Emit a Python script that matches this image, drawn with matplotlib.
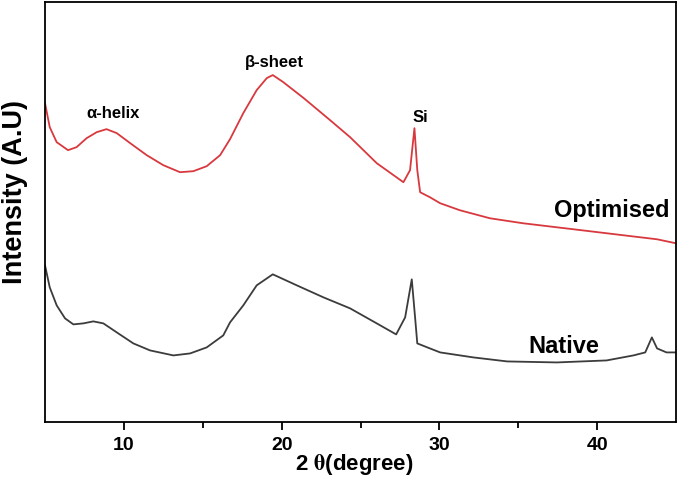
import numpy as np
import matplotlib.pyplot as plt

# plot setup
plt.rc('font', **{'family': 'sans-serif', 'sans-serif': ['Liberation Sans', 'DejaVu Sans'], 'weight': 'bold'})
plt.rc('mathtext', fontset='stix')
plt.rc('xtick', labelsize=14, direction='out')
plt.rcParams['axes.linewidth'] = 1.3
plt.rcParams['xtick.major.width'] = 1.3
plt.rcParams['xtick.major.size'] = 6
plt.rcParams['xtick.minor.width'] = 1.3
plt.rcParams['xtick.minor.size'] = 4

# data (2 theta in degree, intensity in arbitrary units)
two_theta_opt = [5.0, 5.3, 5.74, 6.46, 7.0, 7.64, 8.28, 8.9, 9.55, 10.4, 11.45, 12.5, 13.56,
                 14.4, 15.25, 16.1, 16.73, 17.57, 18.42, 19.06, 19.44, 20.1, 21.4, 23.07,
                 24.34, 26.03, 27.72, 28.14, 28.42, 28.6, 28.78, 29.4, 30.05, 31.3, 33.2,
                 35.3, 38.5, 41.67, 43.8, 45.0]
int_opt = [318, 294, 279, 271, 274, 283, 289, 292, 288, 278, 266, 256, 249,
           250, 255, 266, 282, 308, 331, 343, 346, 339, 323, 301,
           284, 258, 239, 251, 293, 251, 229, 224, 218, 211, 203,
           198, 192, 186, 182, 178]

two_theta_nat = [5.0, 5.3, 5.74, 6.27, 6.8, 7.43, 8.06, 8.7, 9.55, 10.6, 11.66, 13.14,
                 14.2, 15.25, 16.3, 16.73, 17.57, 18.42, 19.44, 20.96, 22.65, 24.34, 26.03,
                 27.26, 27.83, 28.25, 28.46, 28.6, 29.4, 30.05, 32.16, 34.3, 37.45, 40.6,
                 42.3, 43.05, 43.47, 43.8, 44.4, 44.95]
int_nat = [156, 134, 116, 103, 97, 98, 100, 98, 89, 78, 71, 66,
           68, 74, 86, 99, 116, 136, 147, 136, 124, 113, 98,
           87, 104, 142, 104, 78, 73, 69, 64, 60, 59, 61,
           66, 69, 84, 73, 69, 69]

peak_labels = ['α-helix', 'β-sheet', 'Si']
sample_labels = ['Optimised', 'Native']

fig = plt.figure(figsize=(6.79, 4.79), dpi=100)
ax = fig.add_axes([45 / 679, (479 - 421.5) / 479, 631 / 679, 419.5 / 479])

ax.plot(two_theta_opt, int_opt, color='#d8393e', lw=1.3)
ax.plot(two_theta_nat, int_nat, color='#3c3c3c', lw=1.3)

ax.set_xlim(5, 45)
ax.set_ylim(0, 419)
ax.set_xticks([10, 20, 30, 40])
ax.set_xticks([15, 25, 35], minor=True)
ax.set_yticks([])
ax.tick_params(axis='x', which='major', pad=5)

ax.set_xlabel(r'2 $\mathrm{\theta}$(degree)', fontsize=16, fontweight='bold')
ax.xaxis.set_label_coords(0.49, -0.072)
ax.set_ylabel('Intensity (A.U)', fontsize=19.5, fontweight='bold')
ax.yaxis.set_label_coords(-0.027, 0.548)

# annotations
ax.text(9.3, 308, peak_labels[0], fontsize=12, fontweight='bold', ha='center', va='center')
ax.text(19.55, 359, peak_labels[1], fontsize=12, fontweight='bold', ha='center', va='center')
ax.text(28.8, 304, peak_labels[2], fontsize=12, fontweight='bold', ha='center', va='center')
ax.text(40.9, 211, sample_labels[0], fontsize=17, fontweight='bold', ha='center', va='center')
ax.text(37.9, 75, sample_labels[1], fontsize=17, fontweight='bold', ha='center', va='center')

plt.savefig('out.png', dpi=100)
